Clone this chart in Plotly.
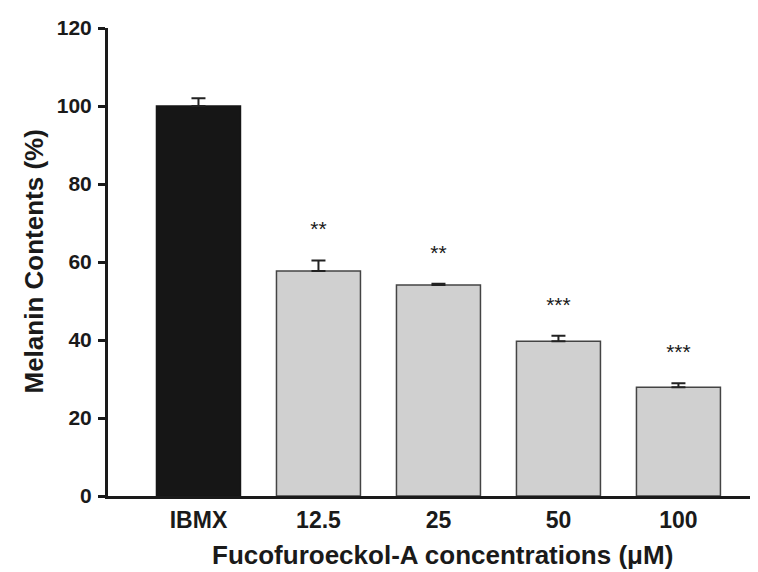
import plotly.graph_objects as go

categories = ["IBMX", "12.5", "25", "50", "100"]
melanin = [100.0, 57.7, 54.1, 39.7, 27.9]
sem = [2.0, 2.7, 0.3, 1.4, 1.0]
significance = ["", "**", "**", "***", "***"]
bar_colors = ["#161616", "#d0d0d0", "#d0d0d0", "#d0d0d0", "#d0d0d0"]
line_colors = ["#161616", "#444444", "#444444", "#444444", "#444444"]

FONT = "Liberation Sans, Arial, sans-serif"

fig = go.Figure()
fig.add_trace(go.Bar(
    x=categories, y=melanin,
    width=0.7,
    marker=dict(color=bar_colors, line=dict(color=line_colors, width=1.5)),
    error_y=dict(type="data", array=sem, arrayminus=[0]*len(sem), symmetric=False,
                 color="#222222", thickness=2, width=7),
    showlegend=False,
))

star_y = [v + e + 7.5 for v, e in zip(melanin, sem)]
fig.add_trace(go.Scatter(
    x=categories, y=star_y, text=significance, mode="text",
    textfont=dict(family=FONT, size=21, color="#1a1a1a"),
    textposition="middle center", showlegend=False,
))

fig.update_layout(
    width=758, height=572,
    margin=dict(l=100, r=8, t=13, b=84),
    paper_bgcolor="white", plot_bgcolor="white",
    bargap=0.3,
    xaxis=dict(
        type="category", range=[-0.754, 4.663],
        showline=True, linecolor="#1a1a1a", linewidth=3,
        ticks="", showgrid=False, zeroline=False,
        tickfont=dict(family=FONT, size=23, color="#1a1a1a", weight="bold"),
        ticklabelstandoff=1,
    ),
    yaxis=dict(
        range=[0, 120], tickvals=[0, 20, 40, 60, 80, 100, 120],
        showline=True, linecolor="#1a1a1a", linewidth=3,
        ticks="outside", ticklen=7, tickwidth=2.5, tickcolor="#1a1a1a",
        showgrid=False, zeroline=False,
        tickfont=dict(family=FONT, size=21, color="#1a1a1a", weight="bold"),
        ticklabelstandoff=2,
    ),
    annotations=[
        dict(text="Melanin Contents (%)", xref="paper", yref="paper",
             x=-0.1146, y=0.5, showarrow=False, textangle=-90,
             xanchor="center", yanchor="middle",
             font=dict(family=FONT, size=26, color="#1a1a1a", weight="bold")),
        dict(text="Fucofuroeckol-A concentrations (μM)", xref="paper", yref="paper",
             x=0.514, y=-0.1263, showarrow=False,
             xanchor="center", yanchor="middle",
             font=dict(family=FONT, size=26, color="#1a1a1a", weight="bold")),
    ],
)

fig.write_html("out.html")
